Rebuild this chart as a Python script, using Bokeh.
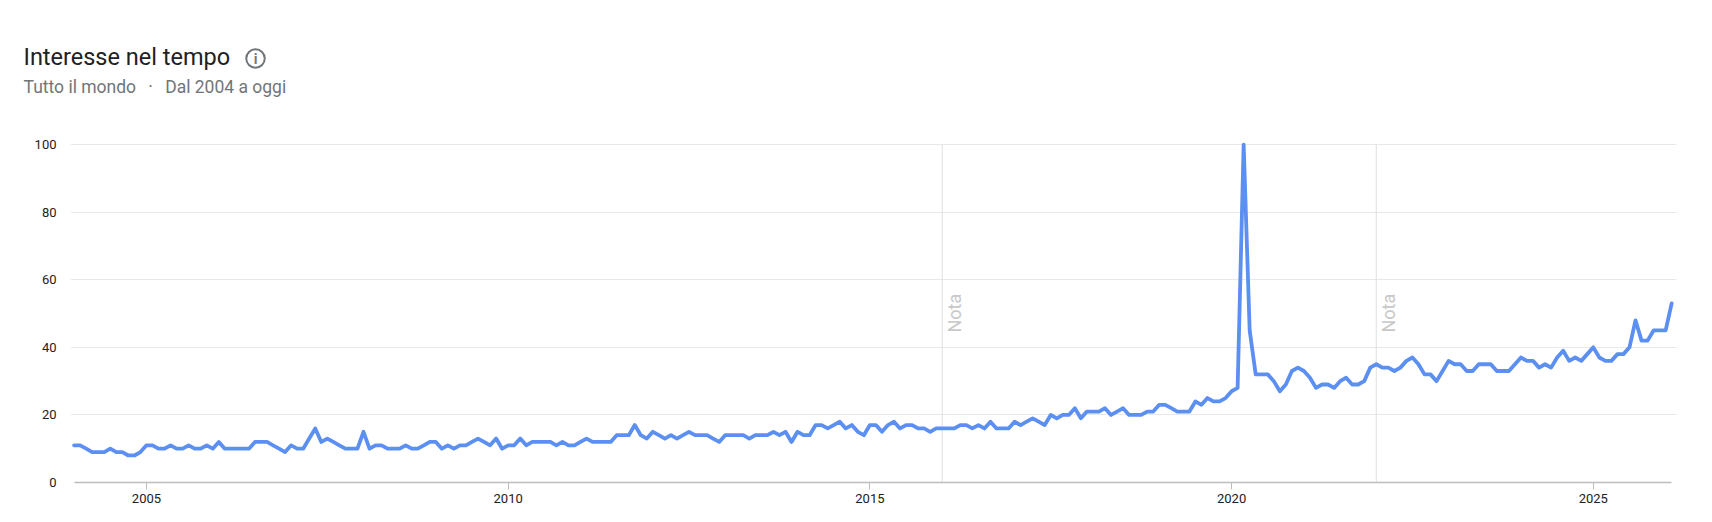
from bokeh.plotting import figure
from bokeh.layouts import column, row
from bokeh.models import FixedTicker, Range1d
from bokeh.core.properties import value
from bokeh.embed import file_html
from bokeh.resources import INLINE

values_2004_2009 = [
    11, 11, 10, 9, 9, 9, 10, 9, 9, 8, 8, 9,
    11, 11, 10, 10, 11, 10, 10, 11, 10, 10, 11, 10,
    12, 10, 10, 10, 10, 10, 12, 12, 12, 11, 10, 9,
    11, 10, 10, 13, 16, 12, 13, 12, 11, 10, 10, 10,
    15, 10, 11, 11, 10, 10, 10, 11, 10, 10, 11, 12,
    12, 10, 11, 10, 11, 11, 12, 13, 12, 11, 13, 10,
]
values_2010_2015 = [
    11, 11, 13, 11, 12, 12, 12, 12, 11, 12, 11, 11,
    12, 13, 12, 12, 12, 12, 14, 14, 14, 17, 14, 13,
    15, 14, 13, 14, 13, 14, 15, 14, 14, 14, 13, 12,
    14, 14, 14, 14, 13, 14, 14, 14, 15, 14, 15, 12,
    15, 14, 14, 17, 17, 16, 17, 18, 16, 17, 15, 14,
    17, 17, 15, 17, 18, 16, 17, 17, 16, 16, 15, 16,
]
values_2016_2021 = [
    16, 16, 16, 17, 17, 16, 17, 16, 18, 16, 16, 16,
    18, 17, 18, 19, 18, 17, 20, 19, 20, 20, 22, 19,
    21, 21, 21, 22, 20, 21, 22, 20, 20, 20, 21, 21,
    23, 23, 22, 21, 21, 21, 24, 23, 25, 24, 24, 25,
    27, 28, 100, 45, 32, 32, 32, 30, 27, 29, 33, 34,
    33, 31, 28, 29, 29, 28, 30, 31, 29, 29, 30, 34,
]
values_2022_2026 = [
    35, 34, 34, 33, 34, 36, 37, 35, 32, 32, 30, 33,
    36, 35, 35, 33, 33, 35, 35, 35, 33, 33, 33, 35,
    37, 36, 36, 34, 35, 34, 37, 39, 36, 37, 36, 38,
    40, 37, 36, 36, 38, 38, 40, 48, 42, 42, 45, 45,
    45, 53,
]
interest = values_2004_2009 + values_2010_2015 + values_2016_2021 + values_2022_2026
years = [2004 + i / 12 for i in range(len(interest))]
x_ticks = [2005, 2010, 2015, 2020, 2025]
y_ticks = [0, 20, 40, 60, 80, 100]
note_years = [2016, 2022]
FONT = "Roboto"
W = 1700
HEAD = 100

head = figure(width=W, height=HEAD, output_backend="svg", toolbar_location=None,
              x_range=Range1d(0, W), y_range=Range1d(HEAD, 0),
              min_border=0, outline_line_color=None, x_axis_location=None, y_axis_location=None)
head.grid.visible = False
head.text(x=[23], y=[56], text=["Interesse nel tempo"], text_baseline="middle",
          text_font=value(FONT), text_font_size="23.5px", text_color="#202124")
head.text(x=[23], y=[86], text=["Tutto il mondo\u00a0\u00a0\u2009·\u00a0\u00a0\u2009Dal 2004 a oggi"],
          text_baseline="middle", text_font=value(FONT), text_font_size="17.5px", text_color="#70757a")
head.scatter(x=[255], y=[58], size=18.5, marker="circle", fill_color=None,
             line_color="#70757a", line_width=2)
head.text(x=[255], y=[58], text=["i"], text_align="center", text_baseline="middle",
          text_font=value(FONT), text_font_size="14px", text_font_style="bold", text_color="#70757a")

p = figure(width=W, height=412, output_backend="svg", toolbar_location=None,
           x_range=Range1d(2003.95, 2026.15), y_range=Range1d(0, 103),
           min_border_left=70, min_border_right=24, min_border_top=34, min_border_bottom=30,
           outline_line_color=None, background_fill_color="white", border_fill_color="white")

p.xaxis.ticker = FixedTicker(ticks=x_ticks)
p.xaxis.bounds = (2004, years[-1])
p.xaxis.axis_line_color = "#bdbdbd"
p.xaxis.axis_line_width = 1.3
p.xaxis.major_tick_line_color = "#bdbdbd"
p.xaxis.major_tick_in = 0
p.xaxis.major_tick_out = 7
p.xaxis.minor_tick_line_color = None
p.xaxis.major_label_text_font = FONT
p.xaxis.major_label_text_font_size = "13px"
p.xaxis.major_label_text_color = "#222222"
p.xaxis.major_label_standoff = 4

p.yaxis.ticker = FixedTicker(ticks=y_ticks)
p.yaxis.axis_line_color = None
p.yaxis.major_tick_line_color = None
p.yaxis.minor_tick_line_color = None
p.yaxis.major_label_text_font = FONT
p.yaxis.major_label_text_font_size = "13px"
p.yaxis.major_label_text_color = "#222222"
p.yaxis.major_label_standoff = 8

p.xgrid.visible = False
p.ygrid.ticker = FixedTicker(ticks=y_ticks[1:])
p.ygrid.grid_line_color = "#e8e8e8"
p.ygrid.grid_line_width = 1
p.ygrid.bounds = (2004, years[-1])

p.segment(x0=note_years, x1=note_years, y0=[0, 0], y1=[100, 100], line_color="#e0e0e0", line_width=1)
p.text(x=note_years, y=[44.4, 44.4], text=["Nota", "Nota"], angle=1.5708, text_align="left",
       text_baseline="top", x_offset=2, text_font=value(FONT), text_font_size="18px",
       text_color="#c8c8c8")

p.line(years, interest, line_color="#5B8FF2", line_width=3.8, line_join="round", line_cap="round")

open("out.html", "w").write(file_html(column(row(head), p, spacing=0), INLINE))
